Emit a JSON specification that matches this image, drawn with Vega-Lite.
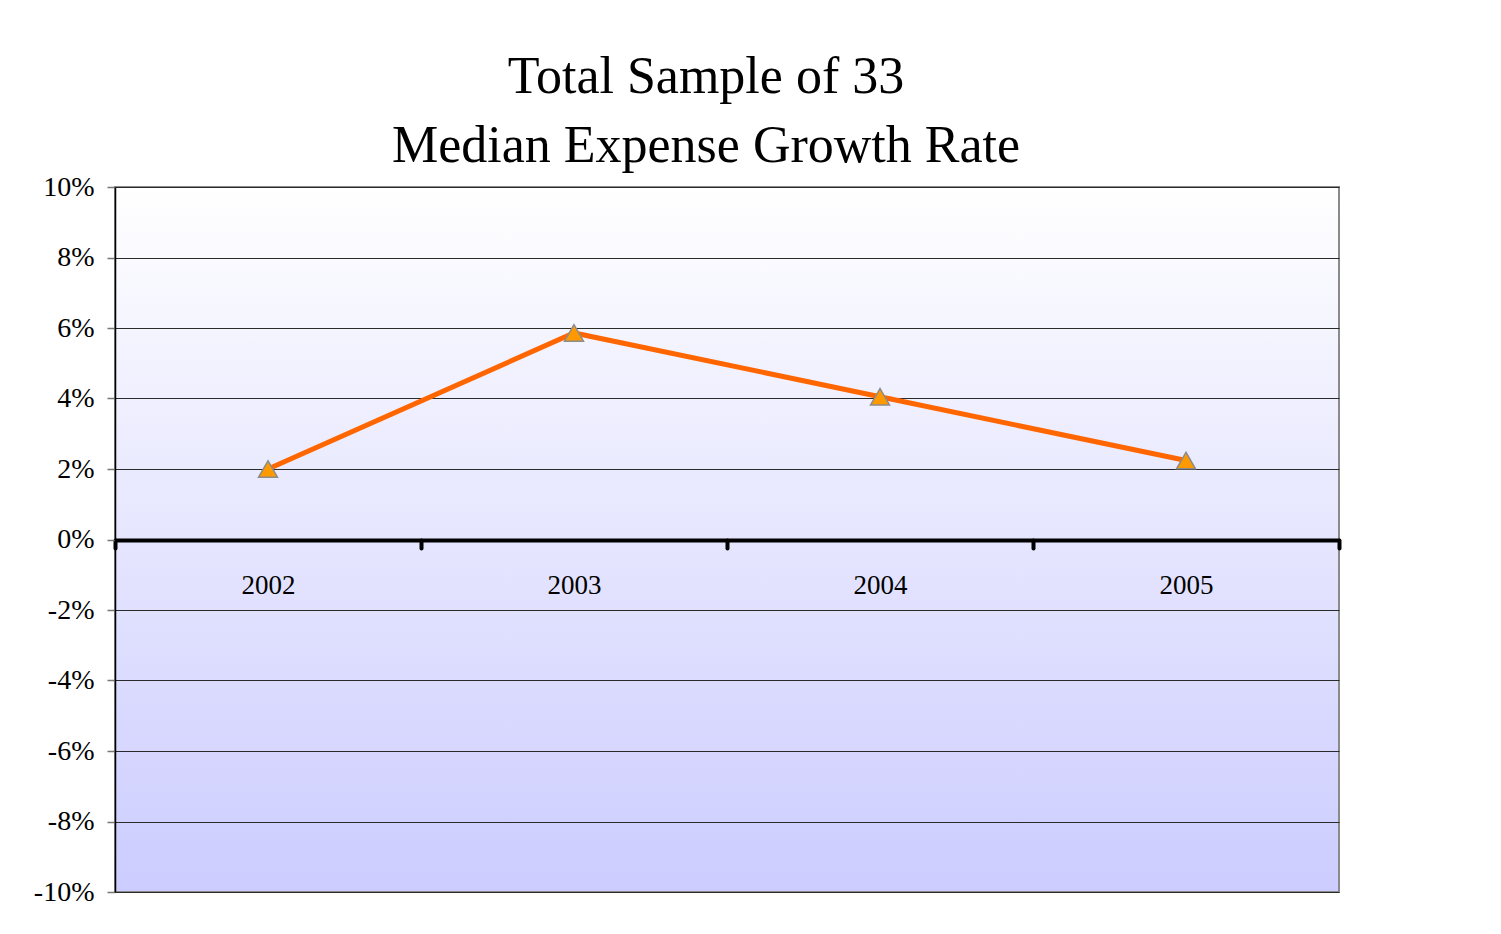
{
  "$schema": "https://vega.github.io/schema/vega-lite/v6.json",
  "autosize": "none",
  "width": 1224,
  "height": 705,
  "padding": {"left": 115, "top": 187, "right": 162, "bottom": 42},
  "background": "#ffffff",
  "title": {
    "text": ["Total Sample of 33", "Median Expense Growth Rate"],
    "font": "Liberation Serif",
    "fontSize": 52,
    "fontWeight": "normal",
    "lineHeight": 69,
    "color": "#000000",
    "anchor": "middle",
    "dx": -21,
    "offset": 0
  },
  "data": {
    "values": [
      {"year": "2002", "rate": 0.0200},
      {"year": "2003", "rate": 0.0586},
      {"year": "2004", "rate": 0.0405},
      {"year": "2005", "rate": 0.0224}
    ]
  },
  "encoding": {
    "x": {
      "field": "year",
      "type": "ordinal",
      "scale": {"type": "band", "paddingInner": 0, "paddingOuter": 0},
      "axis": {
        "title": null,
        "offset": -352,
        "domainColor": "#000000",
        "domainWidth": 4,
        "ticks": true,
        "tickBand": "extent",
        "tickColor": "#000000",
        "tickWidth": 4,
        "tickSize": 8,
        "tickCap": "round",
        "labelFont": "Liberation Serif",
        "labelFontSize": 27,
        "labelColor": "#000000",
        "labelAngle": 0,
        "labelPadding": 24,
        "grid": false
      }
    },
    "y": {
      "field": "rate",
      "type": "quantitative",
      "scale": {"domain": [-0.1, 0.1], "nice": false, "zero": false},
      "axis": {
        "title": null,
        "format": ".0%",
        "labelExpr": "replace(datum.label, '\u2212', '-')",
        "values": [-0.1, -0.08, -0.06, -0.04, -0.02, 0, 0.02, 0.04, 0.06, 0.08, 0.1],
        "domainColor": "#000000",
        "domainWidth": 1.5,
        "tickColor": "#777777",
        "tickSize": 8,
        "tickWidth": 1.5,
        "labelFont": "Liberation Serif",
        "labelFontSize": 28,
        "labelColor": "#000000",
        "labelPadding": 13,
        "grid": true,
        "gridColor": "#2a2a2a",
        "gridWidth": 1
      }
    }
  },
  "layer": [
    {
      "mark": {"type": "line", "color": "#ff6600", "strokeWidth": 5}
    },
    {
      "mark": {"type": "point", "shape": "triangle-up", "filled": true, "fill": "#ff9900", "stroke": "#8c8c8c", "strokeWidth": 1.5, "size": 360, "opacity": 1}
    }
  ],
  "config": {
    "view": {
      "fill": {
        "gradient": "linear",
        "x1": 0, "y1": 0, "x2": 0, "y2": 1,
        "stops": [
          {"offset": 0, "color": "#ffffff"},
          {"offset": 1, "color": "#ccccff"}
        ]
      },
      "stroke": "#8a8a8a",
      "strokeWidth": 2
    }
  }
}
